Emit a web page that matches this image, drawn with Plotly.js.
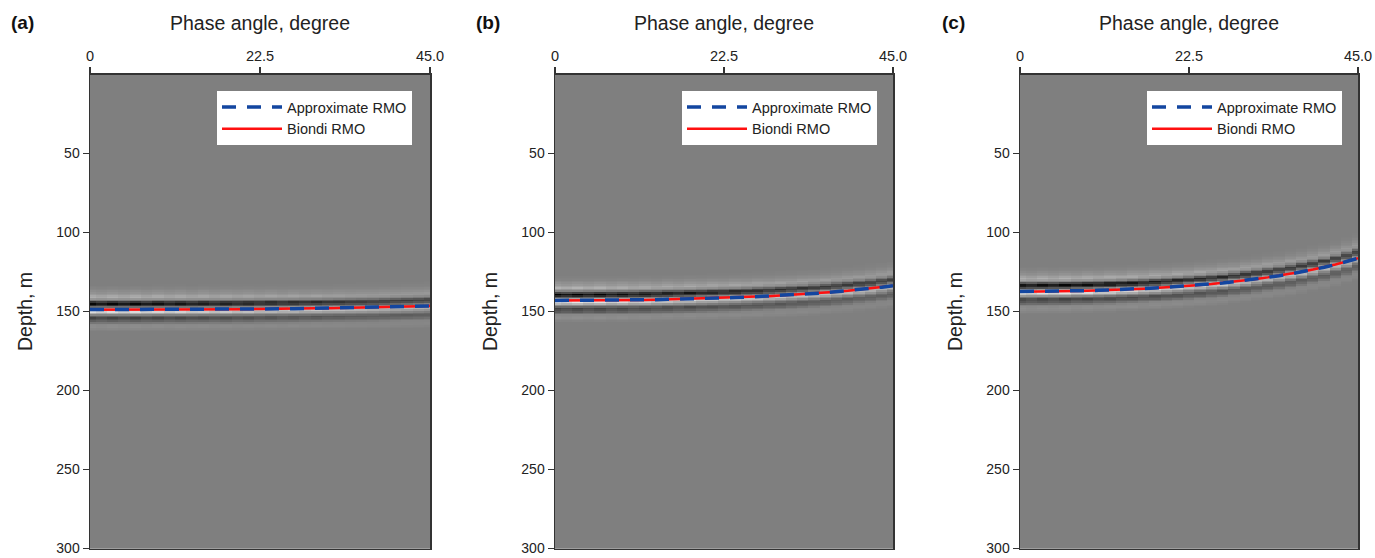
<!DOCTYPE html>
<html>
<head>
<meta charset="utf-8">
<script src="https://cdn.plot.ly/plotly-3.0.1.min.js"></script>
<style>html,body{margin:0;padding:0;background:#fff;}#chart{width:1375px;height:558px;}</style>
</head>
<body>
<div id="chart"></div>
<script>
// ---- data ----
const panelLabels = ['(a)', '(b)', '(c)'];
const xTickVals = [0, 22.5, 45];
const xTickText = ['0', '22.5', '45.0'];
const yTickVals = [50, 100, 150, 200, 250, 300];
const yTickText = ['50', '100', '150', '200', '250', '300'];

// phase angle samples (degree)
const angles = [0,1.5,3,4.5,6,7.5,9,10.5,12,13.5,15,16.5,18,19.5,21,22.5,24,25.5,27,28.5,30,31.5,33,34.5,36,37.5,39,40.5,42,43.5,45];

// RMO curves (depth, m)
const approxA = [148.8,148.8,148.8,148.8,148.8,148.8,148.7,148.7,148.7,148.7,148.6,148.6,148.6,148.5,148.5,148.4,148.3,148.3,148.2,148.1,148.0,147.9,147.8,147.7,147.6,147.5,147.3,147.1,146.9,146.7,146.5];
const biondiA = [148.9,148.9,148.9,148.9,148.9,148.8,148.8,148.8,148.7,148.7,148.7,148.6,148.6,148.5,148.5,148.4,148.4,148.3,148.2,148.1,148.0,147.9,147.8,147.7,147.6,147.5,147.3,147.1,146.9,146.7,146.5];
const approxB = [143.0,143.0,143.0,142.9,142.9,142.8,142.8,142.7,142.6,142.5,142.3,142.2,142.0,141.8,141.6,141.4,141.2,140.9,140.6,140.3,139.9,139.5,139.1,138.6,138.1,137.5,136.9,136.2,135.5,134.6,133.7];
const biondiB = [143.1,143.1,143.1,143.0,143.0,142.9,142.9,142.8,142.7,142.6,142.4,142.3,142.1,141.9,141.7,141.5,141.2,140.9,140.6,140.3,139.9,139.5,139.1,138.6,138.1,137.5,136.9,136.2,135.5,134.6,133.7];
const approxC = [137.3,137.3,137.2,137.2,137.1,136.9,136.8,136.6,136.4,136.1,135.8,135.5,135.1,134.7,134.2,133.7,133.1,132.5,131.9,131.1,130.3,129.4,128.4,127.4,126.2,124.9,123.5,122.0,120.3,118.4,116.3];
const biondiC = [137.5,137.5,137.4,137.4,137.2,137.1,136.9,136.7,136.5,136.2,135.9,135.6,135.2,134.8,134.3,133.8,133.2,132.6,131.9,131.1,130.3,129.4,128.4,127.3,126.1,124.8,123.4,121.9,120.2,118.3,116.3];

// seismic wavelet around the event (offset from curve in m -> amplitude)
const waveletOffset = [-16, -13, -10, -8, -6, -4, -2.5, -1, 1, 3, 5, 7, 9, 11, 14];
const waveletAmp    = [0, 0.05, 0.2, 0.4, 0.05, -1.0, -0.55, 0.3, 0.8, 0.1, -0.5, -0.3, 0.08, 0.12, 0];
// amplitude gain across traces (alternating strength gives the blocky trace look)
const traceGain = [1,0.85,1,0.85,1,0.83,0.96,0.8,0.92,0.78,0.88,0.74,0.84,0.72,0.8,0.68,0.76,0.65,0.72,0.62,0.68,0.6,0.64,0.58,0.6,0.56,0.58,0.55,0.56,0.54,0.55];

const depthSamples = [];
for (let d = 0; d <= 300; d += 1) depthSamples.push(d);

const approxCurves = [approxA, approxB, approxC];
const biondiCurves = [biondiA, biondiB, biondiC];

// ---- build ----
function wave(off) {
  const n = waveletOffset.length;
  if (off <= waveletOffset[0] || off >= waveletOffset[n - 1]) return 0;
  for (let k = 0; k < n - 1; k++) {
    if (off >= waveletOffset[k] && off <= waveletOffset[k + 1]) {
      const t = (off - waveletOffset[k]) / (waveletOffset[k + 1] - waveletOffset[k]);
      return waveletAmp[k] * (1 - t) + waveletAmp[k + 1] * t;
    }
  }
  return 0;
}

const W = 1375, H = 558;
const xPix = [[90, 430], [555, 893], [1020, 1358]];
const yTop = 74.5, yBot = 548.5;
const legendRight = [412, 877, 1342];
const labelX = [9, 474, 940];

const data = [];
const layout = {
  width: W, height: H,
  margin: {l: 0, r: 0, t: 0, b: 0},
  paper_bgcolor: '#ffffff',
  plot_bgcolor: '#7f7f7f',
  font: {family: 'Liberation Sans, Arial, sans-serif', color: '#222222', size: 14},
  showlegend: true,
  annotations: []
};

for (let i = 0; i < 3; i++) {
  const sfx = i === 0 ? '' : String(i + 1);
  const xa = 'x' + sfx, ya = 'y' + sfx;
  const lg = 'legend' + sfx;
  const curve = approxCurves[i];
  const z = depthSamples.map(d => angles.map((a, j) => traceGain[j] * wave(d - curve[j])));

  data.push({
    type: 'heatmap', x: angles, y: depthSamples, z: z,
    colorscale: [[0, '#000000'], [0.5, '#7f7f7f'], [1, '#ffffff']],
    zmin: -1, zmax: 1, showscale: false, hoverinfo: 'skip',
    xaxis: xa, yaxis: ya, showlegend: false
  });
  data.push({
    type: 'scatter', mode: 'lines', x: angles, y: biondiCurves[i],
    name: 'Biondi RMO', line: {color: '#ff1010', width: 2.5},
    xaxis: xa, yaxis: ya, legend: lg, legendrank: 2
  });
  data.push({
    type: 'scatter', mode: 'lines', x: angles, y: approxCurves[i],
    name: 'Approximate RMO', line: {color: '#1346a0', width: 3.5, dash: '14px,11px'},
    xaxis: xa, yaxis: ya, legend: lg, legendrank: 1
  });

  layout['xaxis' + sfx] = {
    domain: [xPix[i][0] / W, xPix[i][1] / W],
    anchor: ya, side: 'top', range: [0, 45],
    tickmode: 'array', tickvals: xTickVals, ticktext: xTickText,
    ticks: 'outside', ticklen: 6, tickwidth: 1.2, tickcolor: '#333',
    showline: true, linecolor: '#333', linewidth: 1.5, mirror: true,
    showgrid: false, zeroline: false, ticklabeloverflow: 'allow',
    tickfont: {size: 14.5, color: '#222'},
    title: {text: 'Phase angle, degree', font: {size: 19.5, color: '#222'}, standoff: 12}
  };
  layout['yaxis' + sfx] = {
    domain: [1 - yBot / H, 1 - yTop / H],
    anchor: xa, range: [300, 0],
    tickmode: 'array', tickvals: yTickVals, ticktext: yTickText,
    ticks: 'outside', ticklen: 6, tickwidth: 1.2, tickcolor: '#333',
    showline: true, linecolor: '#333', linewidth: 1.5, mirror: true,
    showgrid: false, zeroline: false, ticklabeloverflow: 'allow',
    tickfont: {size: 14, color: '#222'},
    title: {text: 'Depth, m', font: {size: 19.5, color: '#222'}, standoff: 18}
  };
  layout[lg] = {
    x: legendRight[i] / W, xanchor: 'right',
    y: 1 - 91 / H, yanchor: 'top',
    bgcolor: '#ffffff', borderwidth: 0,
    font: {size: 14.5, color: '#222'},
    itemwidth: 60, tracegroupgap: 0,
    traceorder: 'normal'
  };
  layout.annotations.push({
    xref: 'paper', yref: 'paper', x: labelX[i] / W, y: 1 - 22 / H,
    xanchor: 'left', yanchor: 'middle', showarrow: false,
    text: '<b>' + panelLabels[i] + '</b>', font: {size: 19, color: '#111'}
  });
}

Plotly.newPlot('chart', data, layout, {displayModeBar: false, staticPlot: true});
</script>
</body>
</html>
